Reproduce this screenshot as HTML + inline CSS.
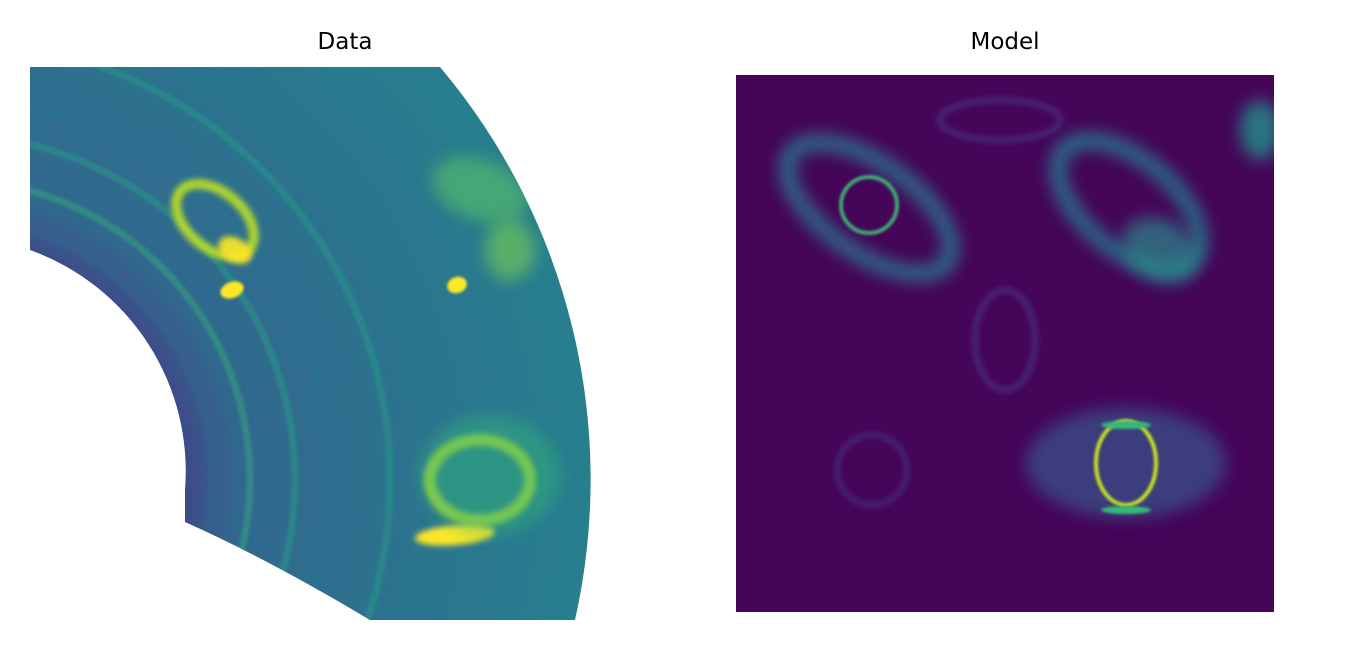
<!DOCTYPE html>
<html><head><meta charset="utf-8"><style>
html,body{margin:0;background:#fff;width:1350px;height:650px;overflow:hidden;font-family:"DejaVu Sans","Liberation Sans",sans-serif}
svg{display:block}
</style></head><body>
<svg id="chart" width="1350" height="650" viewBox="0 0 1350 650" xmlns="http://www.w3.org/2000/svg">
<defs>
<filter id="b8" x="-50%" y="-50%" width="200%" height="200%"><feGaussianBlur stdDeviation="8"/></filter>
<filter id="b3" x="-50%" y="-50%" width="200%" height="200%"><feGaussianBlur stdDeviation="3"/></filter>
<filter id="b1" x="-50%" y="-50%" width="200%" height="200%"><feGaussianBlur stdDeviation="1.2"/></filter>
<clipPath id="sector"><path d="M30,67 L440,67 A640,640 0 0 1 575,620 L370,620 Q270,560 185,522 L185,490 A235,235 0 0 0 30,250 Z"/></clipPath>
<clipPath id="modelbox"><rect x="736" y="75" width="538" height="537"/></clipPath>
<radialGradient id="sectorGrad" cx="-50" cy="480" r="640" gradientUnits="userSpaceOnUse">
<stop offset="0.37" stop-color="#3e4a89"/><stop offset="0.45" stop-color="#31688e"/><stop offset="0.7" stop-color="#2c728e"/><stop offset="1" stop-color="#277f8e"/>
</radialGradient>
</defs>
<text x="345" y="49" font-size="23" text-anchor="middle" fill="#000">Data</text>
<text x="1005" y="49" font-size="23" text-anchor="middle" fill="#000">Model</text>
<g id="dataPanel" clip-path="url(#sector)">
<rect x="0" y="60" width="600" height="570" fill="url(#sectorGrad)"/>
<g id="rings" filter="url(#b1)"></g>
<g id="dataBlobs"></g>
</g>
<g id="modelPanel" clip-path="url(#modelbox)">
<rect x="736" y="75" width="538" height="537" fill="#450559"/>
<g id="modelBlobs"></g>
</g>
</svg>
<script>
// Ring radii (data units, px from polar origin) and colors
const ringRadii = [262, 300, 345, 380, 440, 470];
const ringColors = ['#2f6b8e', '#35b779', '#22a785', '#2a788e', '#20a486', '#2a788e'];
// Data panel features
const dataX = [215, 232, 457, 480, 455, 480, 510, 235, 490];
const dataY = [220, 290, 285, 480, 535, 190, 250, 250, 475];
const dataRX = [45, 12, 10, 50, 40, 50, 25, 18, 70];
const dataRY = [28, 8, 8, 40, 10, 30, 30, 12, 60];
const dataRot = [40, -20, -20, 0, -5, 20, 0, 30, 0];
const dataCol = ['#bddf26', '#fde725', '#fde725', '#b5de2b', '#fde725', '#5ec962', '#7ad151', '#fde725', '#35b779'];
const dataOp = [0.9, 1, 1, 0.9, 1, 0.55, 0.6, 0.9, 0.45];
const dataStroke = [10, 0, 0, 12, 0, 0, 0, 0, 0];
const dataBlur = ['b3', 'b1', 'b1', 'b3', 'b3', 'b8', 'b8', 'b3', 'b8'];
// Model panel features
const modelX = [869, 869, 1129, 1160, 1126, 1126, 1126, 1126, 1005, 872, 1260, 1000];
const modelY = [208, 205, 205, 250, 463, 463, 425, 510, 340, 470, 130, 120];
const modelRX = [95, 28, 85, 40, 100, 30, 25, 25, 30, 35, 20, 60];
const modelRY = [45, 28, 45, 30, 55, 42, 4, 4, 50, 35, 30, 20];
const modelRot = [35, 0, 40, 30, 0, 0, 0, 0, 0, 0, 0, 0];
const modelCol = ['#2a788e', '#3fbc73', '#287d8e', '#2a8a8c', '#39568c', '#c7e020', '#35b779', '#35b779', '#472d7b', '#472d7b', '#21918c', '#472d7b'];
const modelOp = [0.9, 0.9, 0.9, 0.7, 0.7, 1, 1, 1, 1, 1, 0.8, 1];
const modelStroke = [16, 4, 16, 0, 0, 4, 0, 0, 5, 4, 0, 5];
const modelBlur = ['b8', 'b1', 'b8', 'b8', 'b8', 'b1', 'b1', 'b1', 'b3', 'b3', 'b8', 'b3'];
const NS = 'http://www.w3.org/2000/svg';
const ox = -50, oy = 480;
const rg = document.getElementById('rings');
ringRadii.forEach((r, i) => {
  const c = document.createElementNS(NS, 'circle');
  
  
  c.setAttribute('cx', ox); c.setAttribute('cy', oy); c.setAttribute('r', r);
  c.setAttribute('fill', 'none'); c.setAttribute('stroke', ringColors[i]);
  c.setAttribute('stroke-width', 7); c.setAttribute('opacity', 0.4);
  rg.appendChild(c);
});
function blobs(gid, X, Y, RX, RY, ROT, COL, OP, STR, BL, name) {
  const g = document.getElementById(gid);
  X.forEach((x, i) => {
    const e = document.createElementNS(NS, 'ellipse');
    
    
    e.setAttribute('cx', x); e.setAttribute('cy', Y[i]);
    e.setAttribute('rx', RX[i]); e.setAttribute('ry', RY[i]);
    e.setAttribute('transform', 'rotate(' + ROT[i] + ' ' + x + ' ' + Y[i] + ')');
    if (STR[i] > 0) { e.setAttribute('fill', 'none'); e.setAttribute('stroke', COL[i]); e.setAttribute('stroke-width', STR[i]); }
    else e.setAttribute('fill', COL[i]);
    e.setAttribute('opacity', OP[i]);
    e.setAttribute('filter', 'url(#' + BL[i] + ')');
    g.appendChild(e);
  });
}
blobs('dataBlobs', dataX, dataY, dataRX, dataRY, dataRot, dataCol, dataOp, dataStroke, dataBlur, 'data-feature');
blobs('modelBlobs', modelX, modelY, modelRX, modelRY, modelRot, modelCol, modelOp, modelStroke, modelBlur, 'model-feature');
</script>
</body></html>
